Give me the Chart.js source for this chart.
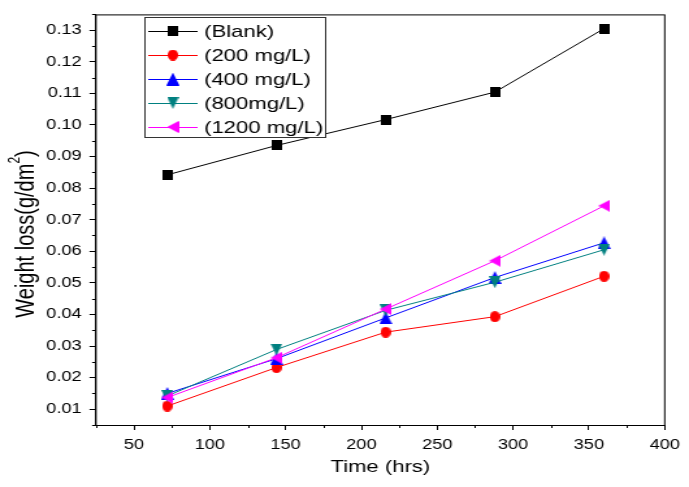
<!DOCTYPE html>
<html>
<head>
<meta charset="utf-8">
<script src="https://cdn.jsdelivr.net/npm/chart.js@4.4.1/dist/chart.umd.min.js"></script>
<style>
  html, body { margin: 0; padding: 0; background: #fff; overflow: hidden; }
  /* the source picture is stretched sideways, so the whole chart is too */
  #wrap { width: 530px; height: 487px; transform: scaleX(1.3); transform-origin: 0 0; }
  #chart { width: 530px; height: 487px; }
</style>
</head>
<body>
<div id="wrap"><canvas id="chart" width="530" height="487"></canvas></div>
<script>
// ---- data ----
const hours   = [72, 144, 216, 288, 360];
const blank   = [0.0842, 0.0935, 0.1017, 0.1104, 0.1305];
const mg200   = [0.0110, 0.0232, 0.0344, 0.0393, 0.0521];
const mg400   = [0.0150, 0.0260, 0.0389, 0.0517, 0.0627];
const mg800   = [0.0142, 0.0289, 0.0413, 0.0502, 0.0605];
const mg1200  = [0.0137, 0.0263, 0.0417, 0.0570, 0.0744];

const seriesLabels = ['(Blank)', '(200 mg/L)', '(400 mg/L)', '(800mg/L)', '(1200 mg/L)'];

const xTicks = [50, 100, 150, 200, 250, 300, 350, 400];
const xMinor = [25, 75, 125, 175, 225, 275, 325, 375];
const yTicks = [0.01, 0.02, 0.03, 0.04, 0.05, 0.06, 0.07, 0.08, 0.09, 0.10, 0.11, 0.12, 0.13];
const yMinor = [0.005, 0.015, 0.025, 0.035, 0.045, 0.055, 0.065, 0.075, 0.085, 0.095, 0.105, 0.115, 0.125, 0.135];

const STRETCH = 1.3;
const FONT = "'Liberation Sans', Arial, sans-serif";

/**
 * makeMarker — draws a marker on a small canvas, squeezed so it looks
 * normal again once the page stretches it.
 */
function makeMarker(shape, color, size) {
  const c = document.createElement('canvas');
  c.width = Math.round(size / STRETCH);
  c.height = size;
  const g = c.getContext('2d');
  g.scale(c.width / size, 1);
  g.fillStyle = color;
  const r = size / 2;
  g.beginPath();
  if (shape === 'square') {
    g.rect(0, 0, size, size);
  } else if (shape === 'circle') {
    g.arc(r, r, r, 0, Math.PI * 2);
  } else if (shape === 'up') {
    g.moveTo(r, 0); g.lineTo(size, size); g.lineTo(0, size);
  } else if (shape === 'down') {
    g.moveTo(0, 0); g.lineTo(size, 0); g.lineTo(r, size);
  } else if (shape === 'left') {
    g.moveTo(0, r); g.lineTo(size, 0); g.lineTo(size, size);
  }
  g.closePath();
  g.fill();
  return c;
}

function toPoints(values) {
  return hours.map((h, i) => ({ x: h, y: values[i] }));
}

const styles = [
  { color: '#000000', marker: makeMarker('square', '#000000', 10) },
  { color: '#ff0000', marker: makeMarker('circle', '#ff0000', 11) },
  { color: '#0000ff', marker: makeMarker('up', '#0000ff', 13) },
  { color: '#008080', marker: makeMarker('down', '#008080', 12) },
  { color: '#ff00ff', marker: makeMarker('left', '#ff00ff', 12) }
];
const allValues = [blank, mg200, mg400, mg800, mg1200];

const datasets = allValues.map((vals, i) => ({
  label: seriesLabels[i],
  data: toPoints(vals),
  borderColor: styles[i].color,
  backgroundColor: styles[i].color,
  borderWidth: 1,
  tension: 0,
  fill: false,
  pointStyle: styles[i].marker,
  order: allValues.length - i
}));

// frame, minor ticks, y title with superscript, and the boxed legend
const framePlugin = {
  id: 'frame',
  afterDraw(chart) {
    const { ctx, chartArea: a, scales: { x, y } } = chart;
    ctx.save();
    ctx.strokeStyle = '#000';
    ctx.lineWidth = 1;
    ctx.strokeRect(a.left, a.top + 0.5, a.right - a.left, a.bottom - a.top);

    ctx.beginPath();
    yMinor.forEach(v => {
      const py = Math.round(y.getPixelForValue(v)) + 0.5;
      ctx.moveTo(a.left - 3, py); ctx.lineTo(a.left, py);
    });
    xMinor.forEach(v => {
      const px = Math.round(x.getPixelForValue(v)) + 0.5;
      ctx.moveTo(px, a.bottom); ctx.lineTo(px, a.bottom + 3);
    });
    ctx.stroke();

    // y axis title, rotated, with a raised 2
    ctx.save();
    ctx.translate(20, 234);
    ctx.rotate(-Math.PI / 2);
    ctx.fillStyle = '#000';
    ctx.textBaseline = 'middle';
    const main = 'Weight loss(g/dm', sup = '2', tail = ')';
    ctx.font = '20px ' + FONT;
    const wMain = ctx.measureText(main).width, wTail = ctx.measureText(tail).width;
    ctx.font = '12px ' + FONT;
    const wSup = ctx.measureText(sup).width;
    let tx = -(wMain + wSup + wTail) / 2;
    ctx.font = '20px ' + FONT;
    ctx.fillText(main, tx, 0);
    tx += wMain;
    ctx.font = '12px ' + FONT;
    ctx.fillText(sup, tx, -8);
    tx += wSup;
    ctx.font = '20px ' + FONT;
    ctx.fillText(tail, tx, 0);
    ctx.restore();

    // legend
    const box = { left: 111, top: 17, right: 250, bottom: 137 };
    ctx.fillStyle = '#fff';
    ctx.fillRect(box.left, box.top, box.right - box.left, box.bottom - box.top);
    ctx.strokeStyle = '#333';
    ctx.strokeRect(box.left + 0.5, box.top + 0.5, box.right - box.left, box.bottom - box.top);

    ctx.font = '17px ' + FONT;
    ctx.textBaseline = 'middle';
    chart.data.datasets.forEach((ds, i) => {
      const cy = 31 + i * 24;
      ctx.strokeStyle = ds.borderColor;
      ctx.beginPath();
      ctx.moveTo(114, cy + 0.5); ctx.lineTo(152, cy + 0.5);
      ctx.stroke();
      const m = ds.pointStyle;
      ctx.drawImage(m, 133 - m.width / 2, cy - m.height / 2);
      ctx.fillStyle = '#000';
      ctx.fillText(ds.label, 157, cy + 1);
    });
    ctx.restore();
  }
};

Chart.defaults.font.family = FONT;
Chart.defaults.color = '#000';

new Chart(document.getElementById('chart'), {
  type: 'line',
  data: { datasets: datasets },
  options: {
    responsive: false,
    animation: false,
    layout: { padding: { left: 0, right: 13, top: 12, bottom: 0 } },
    plugins: {
      legend: { display: false },
      tooltip: { enabled: false }
    },
    scales: {
      x: {
        type: 'linear',
        min: 25,
        max: 400,
        afterBuildTicks: s => { s.ticks = xTicks.map(v => ({ value: v })); },
        afterFit: s => { s.height = 62; },
        grid: { drawOnChartArea: false, drawTicks: true, tickLength: 5, tickColor: '#000' },
        border: { display: true, color: '#000', width: 1 },
        ticks: { font: { size: 14 }, color: '#000', padding: 7, maxRotation: 0 },
        title: { display: true, text: 'Time (hrs)', font: { size: 17 }, color: '#000', padding: { top: 0, bottom: 9 } }
      },
      y: {
        type: 'linear',
        min: 0.005,
        max: 0.135,
        afterBuildTicks: s => { s.ticks = yTicks.map(v => ({ value: v })); },
        afterFit: s => { s.width = 73.85; },
        grid: { drawOnChartArea: false, drawTicks: true, tickLength: 5, tickColor: '#000' },
        border: { display: true, color: '#000', width: 1 },
        ticks: { font: { size: 14 }, color: '#000', padding: 6, callback: v => v.toFixed(2) },
        title: { display: false }
      }
    }
  },
  plugins: [framePlugin]
});
</script>
</body>
</html>
